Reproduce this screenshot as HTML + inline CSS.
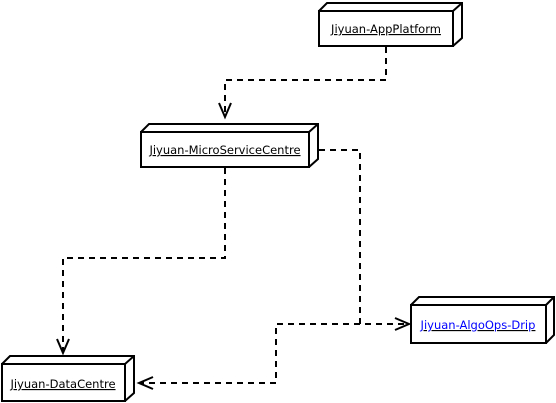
<!DOCTYPE html>
<html><head><style>body{margin:0;background:#fff}svg{display:block}text{font-family:"DejaVu Sans",sans-serif;font-size:11.5px}</style></head><body>
<svg width="556" height="403" xmlns="http://www.w3.org/2000/svg">
<g fill="#fff" stroke="#000" stroke-width="2">
<path d="M319 11 L327 3 L462 3 L462 38 L453 46"/><rect x="319" y="11" width="134" height="35"/><line x1="453" y1="11" x2="462" y2="3"/>
<path d="M141 132 L149 124 L318 124 L318 159 L309 167"/><rect x="141" y="132" width="168" height="35"/><line x1="309" y1="132" x2="318" y2="124"/>
<path d="M2 364 L10 356 L134 356 L134 393 L125 401"/><rect x="2" y="364" width="123" height="37"/><line x1="125" y1="364" x2="134" y2="356"/>
<path d="M411 305 L419 297 L554 297 L554 335 L546 343"/><rect x="411" y="305" width="135" height="38"/><line x1="546" y1="305" x2="554" y2="297"/>
</g>
<g fill="none" stroke="#000" stroke-width="2" stroke-dasharray="6 5">
<path d="M386 47 V80 H225 V116"/>
<path d="M225 168 V258 H63 V352"/>
<path d="M319 150 H360 V324 H408"/>
<path d="M360 324 H276 V383 H140"/>
</g>
<g fill="none" stroke="#000" stroke-width="2">
<path d="M219 103 L225 117 L231 103"/>
<path d="M57 339 L63 353 L69 339"/>
<path d="M395 318 L409 324 L395 330"/>
<path d="M153 377 L139 383 L153 389"/>
</g>
<g text-decoration="underline">
<text x="386" y="33" text-anchor="middle">Jiyuan-AppPlatform</text>
<text x="225" y="154" text-anchor="middle">Jiyuan-MicroServiceCentre</text>
<text x="63" y="388" text-anchor="middle">Jiyuan-DataCentre</text>
<text x="478" y="329" text-anchor="middle" fill="#0000ff">Jiyuan-AlgoOps-Drip</text>
</g>
</svg>
</body></html>
